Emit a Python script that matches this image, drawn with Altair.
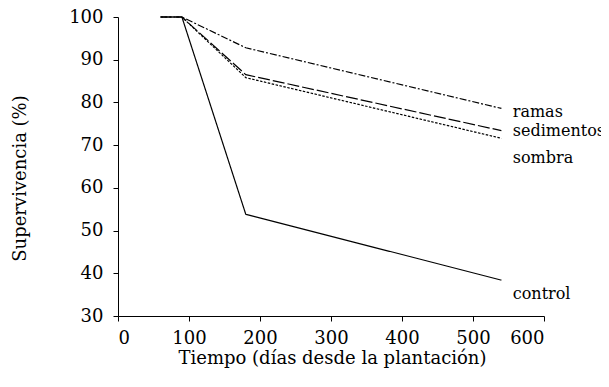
import altair as alt
import pandas as pd

dias = [60, 90, 180, 540]
control = [100, 100, 53.8, 38.4]
sedimentos = [100, 100, 86.5, 73.4]
sombra = [100, 100, 85.8, 71.6]
ramas = [100, 100, 92.8, 78.6]

series_names = ["control", "sedimentos", "sombra", "ramas"]
series_vals = [control, sedimentos, sombra, ramas]
dashes = [[1, 0], [12, 3], [2.5, 1.5], [7, 2, 2, 2]]

label_text = ["ramas", "sedimentos", "sombra", "control"]
label_x = [556, 556, 556, 556]
label_y = [77.8, 73.2, 67.0, 35.2]

rows = []
for name, vals in zip(series_names, series_vals):
    for d, v in zip(dias, vals):
        rows.append({"serie": name, "dias": d, "superv": v})
df = pd.DataFrame(rows)
lab = pd.DataFrame({"t": label_text, "x": label_x, "y": label_y})

FONT = "DejaVu Serif"
xs = alt.Scale(domain=[0, 600], nice=False)
ys = alt.Scale(domain=[30, 100], nice=False, zero=False)

lines = alt.Chart(df).mark_line(color="black", strokeWidth=1.2).encode(
    x=alt.X("dias:Q", scale=xs, title="Tiempo (días desde la plantación)",
            axis=alt.Axis(values=[0, 100, 200, 300, 400, 500, 600], grid=False,
                          tickSize=5, labelPadding=8, titleBaseline="middle",
                          titleX=214, titleY=42, titleFontWeight="normal")),
    y=alt.Y("superv:Q", scale=ys, title="Supervivencia (%)",
            axis=alt.Axis(values=[30, 40, 50, 60, 70, 80, 90, 100], grid=False,
                          tickSize=5, labelPadding=10, titleBaseline="middle",
                          titleX=-98, titleY=161, titleAngle=-90,
                          titleFontWeight="normal")),
    strokeDash=alt.StrokeDash("serie:N", scale=alt.Scale(domain=series_names, range=dashes), legend=None),
    detail="serie:N",
)

labels = alt.Chart(lab).mark_text(align="left", baseline="middle", font=FONT,
                                  fontSize=16, color="black").encode(
    x=alt.X("x:Q", scale=xs), y=alt.Y("y:Q", scale=ys), text="t:N")

chart = (lines + labels).properties(
    width=426, height=299,
    autosize=alt.AutoSizeParams(type="none"),
    padding={"left": 110, "top": 9, "right": 57, "bottom": 63},
).configure_view(stroke=None).configure_axis(
    labelFont=FONT, titleFont=FONT, labelFontSize=18, titleFontSize=18,
    labelColor="black", titleColor="black", domainColor="black", tickColor="black",
    domainWidth=1, tickWidth=1,
)

chart.save("out.html", embed_options={"renderer": "svg", "actions": False})
